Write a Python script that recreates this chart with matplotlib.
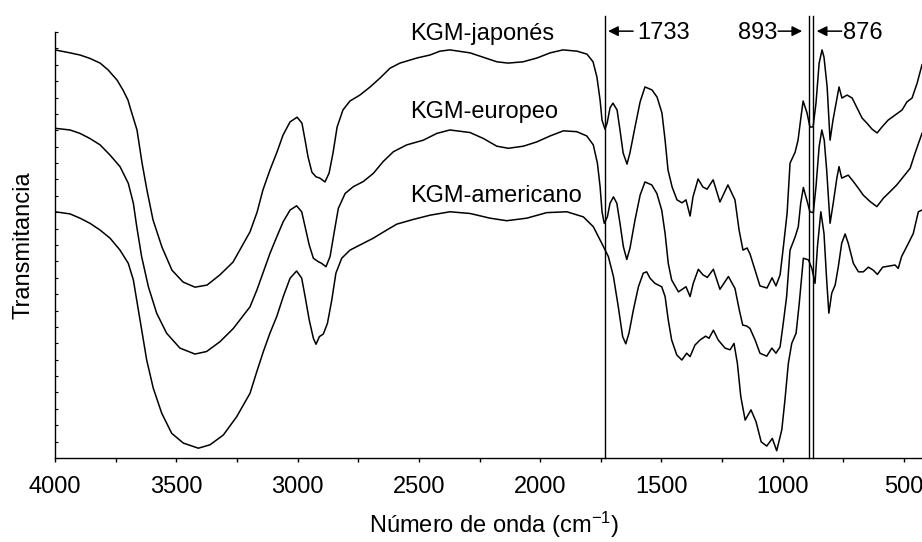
import matplotlib
matplotlib.use("Agg")
import matplotlib.pyplot as plt
from matplotlib.ticker import MultipleLocator, NullFormatter

plt.rcParams['font.family'] = ['Liberation Sans', 'DejaVu Sans']
plt.rcParams['mathtext.fontset'] = 'custom'
plt.rcParams['mathtext.rm'] = 'Liberation Sans'
plt.rcParams['mathtext.it'] = 'Liberation Sans:italic'

# KGM-japonés (top curve), wavenumber in cm-1 and transmittance (a.u.)
wnJap = [4000, 3938, 3897, 3856, 3814, 3781, 3744, 3720, 3699, 3691, 3662, 3641, 3621, 3596,
         3559, 3518, 3472, 3423, 3373, 3320, 3266, 3196, 3167, 3143, 3114, 3085, 3060, 3031,
         3002, 2982, 2969, 2957, 2941, 2924, 2908, 2887, 2870, 2854, 2837, 2813, 2784, 2743,
         2701, 2660, 2619, 2578, 2508, 2454, 2413, 2372, 2289, 2236, 2178, 2132, 2071, 2013,
         1959, 1906, 1848, 1807, 1782, 1766, 1753, 1745, 1733, 1724, 1712, 1700, 1683, 1671,
         1658, 1642, 1630, 1609, 1588, 1568, 1539, 1518, 1498, 1485, 1473, 1456, 1436, 1415,
         1399, 1382, 1370, 1349, 1329, 1312, 1287, 1259, 1226, 1197, 1180, 1164, 1147, 1135,
         1114, 1094, 1065, 1044, 1028, 1011, 999, 982, 970, 949, 937, 925, 916, 900, 888, 875,
         863, 850, 838, 830, 817, 805, 793, 776, 768, 756, 735, 714, 694, 673, 653, 632, 611,
         591, 566, 537, 508, 488, 467, 446, 426]
tJap = [95.8, 95.1, 94.6, 93.8, 92.7, 91.1, 88.7, 86.4, 84.0, 82.4, 77.0, 69.2, 62.9, 55.9,
        49.5, 44.1, 41.3, 40.1, 40.6, 43.0, 46.0, 53.1, 57.7, 62.9, 67.6, 71.8, 75.8, 78.9,
        80.0, 78.6, 74.6, 70.7, 67.1, 66.0, 65.7, 64.8, 66.9, 71.6, 77.7, 81.7, 83.8, 85.2,
        87.1, 89.2, 91.5, 92.7, 93.9, 94.6, 95.5, 95.8, 95.1, 94.1, 93.0, 92.7, 93.0, 93.9,
        95.1, 95.8, 95.5, 94.8, 93.0, 89.4, 84.0, 79.3, 77.2, 78.6, 82.2, 83.3, 81.7, 77.0,
        71.6, 69.0, 71.6, 77.7, 83.6, 87.1, 86.4, 84.7, 81.0, 74.6, 67.6, 63.6, 60.6, 59.9,
        60.6, 56.8, 61.3, 65.5, 63.6, 63.1, 65.3, 60.1, 64.1, 60.6, 53.5, 48.8, 49.3, 47.9,
        44.1, 40.4, 39.9, 42.3, 40.4, 43.0, 48.8, 57.5, 69.2, 71.8, 74.6, 80.0, 83.8, 81.0, 77.7, 77.7,
        83.3, 92.7, 95.8, 94.1, 87.1, 74.6, 79.3, 84.7, 87.1, 84.5, 85.2, 84.5, 82.2, 79.8, 78.6, 77.2, 76.3,
        77.7, 79.3, 80.5, 81.7, 83.6, 84.5, 88.0, 92.3]

# KGM-europeo (middle curve)
wnEur = [4000, 3938, 3897, 3856, 3814, 3773, 3732, 3698, 3677, 3663, 3643, 3615, 3581, 3540,
         3485, 3423, 3375, 3320, 3265, 3196, 3168, 3141, 3114, 3086, 3059, 3031, 3004, 2983,
         2969, 2952, 2935, 2915, 2901, 2883, 2866, 2850, 2832, 2804, 2770, 2729, 2688, 2647,
         2605, 2550, 2482, 2426, 2372, 2289, 2234, 2179, 2131, 2069, 2014, 1959, 1904, 1849,
         1808, 1781, 1764, 1753, 1745, 1736, 1723, 1712, 1698, 1684, 1671, 1657, 1643, 1630,
         1609, 1588, 1568, 1540, 1519, 1499, 1485, 1472, 1458, 1430, 1399, 1382, 1369, 1348,
         1329, 1311, 1286, 1259, 1224, 1197, 1179, 1165, 1149, 1135, 1114, 1094, 1066, 1045,
         1028, 1011, 998, 984, 970, 949, 936, 926, 915, 901, 888, 874, 863, 850, 839, 829, 819,
         805, 792, 777, 768, 757, 730, 709, 688, 668, 640, 612, 585, 558, 530, 503, 475, 455, 426]
tEur = [77.4, 77.0, 76.2, 75.0, 73.5, 71.1, 68.4, 64.5, 59.8, 54.3, 47.3, 40.2, 34.0, 29.3,
        25.8, 24.4, 25.0, 27.3, 30.4, 35.5, 39.4, 43.7, 48.0, 51.9, 55.5, 58.2, 59.2, 57.8,
        54.3, 50.0, 46.9, 46.1, 45.7, 44.9, 47.3, 52.7, 58.6, 62.1, 63.7, 64.9, 66.8, 69.6,
        71.9, 73.5, 74.6, 76.2, 77.0, 76.4, 75.0, 73.2, 72.7, 73.2, 74.2, 75.6, 76.8, 76.6,
        75.6, 73.5, 69.2, 63.7, 57.8, 55.1, 56.6, 59.8, 61.3, 59.8, 55.1, 49.6, 46.6, 49.2,
        55.9, 61.7, 64.8, 64.1, 62.1, 58.2, 52.7, 45.7, 41.8, 39.0, 40.2, 37.9, 41.0, 44.3,
        43.0, 42.4, 44.3, 39.6, 42.6, 39.8, 34.7, 31.2, 31.0, 30.4, 27.7, 24.6, 23.9, 25.8,
        24.6, 26.1, 31.6, 37.9, 48.8, 51.9, 54.3, 59.8, 63.5, 60.6, 57.8, 57.6, 63.7, 73.1, 77.0, 74.6, 67.6,
        55.1, 59.8, 65.7, 68.4, 65.7, 66.4, 64.9, 63.3, 61.7, 60.2, 59.0, 61.0, 62.5, 64.1, 66.0, 68.0, 71.5, 76.2]

# KGM-americano (bottom curve)
wnAme = [4000, 3938, 3897, 3856, 3814, 3773, 3732, 3698, 3677, 3661, 3643, 3622, 3595, 3560,
         3519, 3471, 3409, 3361, 3306, 3251, 3196, 3168, 3141, 3114, 3086, 3059, 3031, 3004,
         2983, 2969, 2952, 2935, 2924, 2910, 2894, 2877, 2859, 2842, 2818, 2784, 2743, 2688,
         2633, 2591, 2523, 2454, 2372, 2289, 2207, 2138, 2055, 1973, 1890, 1822, 1781, 1746,
         1719, 1698, 1678, 1660, 1647, 1634, 1616, 1595, 1575, 1561, 1547, 1527, 1499, 1485,
         1472, 1458, 1437, 1416, 1396, 1382, 1362, 1341, 1318, 1304, 1286, 1266, 1238, 1217,
         1201, 1187, 1173, 1155, 1131, 1110, 1089, 1066, 1043, 1025, 1004, 991, 977, 963, 945,
         932, 915, 894, 880, 867, 857, 843, 830, 819, 810, 798, 784, 771, 757, 743, 730, 709,
         688, 668, 647, 627, 610, 588, 558, 537, 524, 510, 482, 462, 441, 426]
tAme = [57.8, 57.3, 56.3, 55.1, 53.5, 51.6, 48.8, 45.7, 41.8, 36.3, 30.0, 23.0, 16.4, 10.5,
        5.8, 3.5, 2.3, 3.1, 5.4, 9.7, 15.2, 20.3, 25.0, 29.3, 33.2, 37.9, 42.2, 43.9,
        42.2, 37.9, 32.4, 28.1, 26.7, 28.5, 29.1, 31.6, 37.1, 43.4, 46.9, 48.8, 50.0, 51.6,
        53.5, 54.9, 56.0, 57.0, 57.8, 57.4, 56.3, 55.7, 56.3, 57.6, 57.8, 56.6, 54.3, 50.4,
        47.3, 42.6, 35.5, 28.5, 26.8, 29.3, 34.7, 40.2, 43.4, 43.7, 42.2, 41.0, 40.2, 37.9,
        32.4, 27.7, 24.2, 23.0, 24.6, 23.8, 26.5, 27.7, 28.6, 28.1, 30.0, 27.7, 25.8, 25.4,
        26.9, 22.2, 14.4, 8.9, 11.3, 8.5, 3.8, 2.8, 4.6, 1.7, 6.6, 13.6, 22.2, 26.9, 29.3,
        36.3, 46.9, 46.5, 44.5, 41.0, 49.6, 57.8, 52.7, 41.8, 34.0, 38.7, 40.6, 44.9, 50.4, 52.6, 50.4, 45.7,
        43.7, 43.7, 44.8, 44.1, 43.1, 44.8, 45.1, 45.3, 44.5, 47.3, 50.4, 52.7, 57.8, 58.2]

names = ["KGM-japonés", "KGM-europeo", "KGM-americano"]
markedBands = [1733, 893, 876]

fig = plt.figure(figsize=(9.22, 5.42), dpi=100)
ax = fig.add_axes([55 / 922, 1 - 458 / 542, 867 / 922, 426 / 542])

for wn, t in [(wnJap, tJap), (wnEur, tEur), (wnAme, tAme)]:
    ax.plot(wn, t, color="black", lw=1.1, solid_joinstyle='round')

for band in markedBands:
    ax.axvline(band, ymin=0, ymax=1.038, color="black", lw=1.0, clip_on=False)

ax.set_xlim(4000, 426)
ax.set_ylim(0, 100)

ax.spines['top'].set_visible(False)
ax.spines['right'].set_visible(False)
for s in ['left', 'bottom']:
    ax.spines[s].set_linewidth(1.0)

ax.xaxis.set_major_locator(MultipleLocator(500))
ax.xaxis.set_minor_locator(MultipleLocator(250))
ax.tick_params(axis='x', which='both', direction='out', length=3, width=1.0,
               labelsize=17, pad=10)
ax.yaxis.set_major_locator(MultipleLocator(100 / 26))
ax.yaxis.set_major_formatter(NullFormatter())
ax.tick_params(axis='y', which='both', direction='in', length=2.5, width=0.8)

# curve labels
ax.text(2537, 98.1, names[0], fontsize=17, va='baseline', clip_on=False)
ax.text(2537, 79.8, names[1], fontsize=17, va='baseline')
ax.text(2537, 60.1, names[2], fontsize=17, va='baseline')

# band labels with arrows
arrowKw = dict(arrowstyle='-|>', lw=1.1, color='black', mutation_scale=15,
               shrinkA=0, shrinkB=0)
ax.annotate("", xy=(1720, 100.2), xytext=(1617, 100.2), arrowprops=arrowKw,
            annotation_clip=False)
ax.text(1600, 98.3, str(markedBands[0]), fontsize=17, va='baseline', clip_on=False)

ax.text(1184, 98.3, str(markedBands[1]), fontsize=17, va='baseline', clip_on=False)
ax.annotate("", xy=(920, 100.2), xytext=(1019, 100.2), arrowprops=arrowKw,
            annotation_clip=False)

ax.annotate("", xy=(860, 100.2), xytext=(757, 100.2), arrowprops=arrowKw,
            annotation_clip=False)
ax.text(752, 98.3, str(markedBands[2]), fontsize=17, va='baseline', clip_on=False)

fig.text(494 / 922, 1 - 533 / 542, "Número de onda (cm$^{-1}$)", fontsize=17,
         ha='center', va='baseline')
fig.text(24 / 922, 1 - 245 / 542, "Transmitancia", fontsize=17, rotation=90,
         ha='center', va='center')

fig.savefig("out.png", dpi=100)
